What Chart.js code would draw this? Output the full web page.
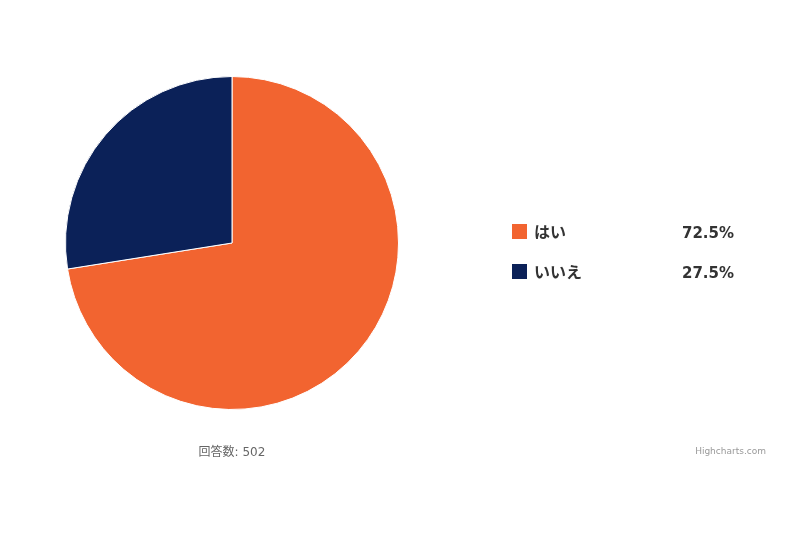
<!DOCTYPE html>
<html><head><meta charset="utf-8">
<script src="https://cdn.jsdelivr.net/npm/chart.js@4"></script>
<style>
html,body{margin:0;padding:0;background:#fff;}
#wrap{position:relative;width:800px;height:533px;font-family:"DejaVu Sans","Noto Sans CJK JP",sans-serif;}
canvas{position:absolute;left:0;top:0;}
.leg{position:absolute;left:512px;width:222px;height:22px;font-weight:bold;color:#333;}
.leg .sw{position:absolute;left:0;top:2px;width:15px;height:15px;}
.leg .lb{position:absolute;left:22px;top:0;line-height:22px;font-size:16px;}
.leg .pc{position:absolute;right:0;top:0;line-height:22px;font-size:15px;}
#cap{position:absolute;left:180px;width:104px;top:442px;text-align:center;font-size:12px;color:#666;}
#credit{position:absolute;right:34px;top:446px;font-size:9px;color:#999;}
</style></head>
<body><div id="wrap"><canvas id="c" width="800" height="533"></canvas>
<div id="legend"></div>
<div id="cap"></div>
<div id="credit">Highcharts.com</div>
</div>
<script>
const categories = ["はい", "いいえ"];
const values = [72.5, 27.5];
const colors = ["#F26430", "#0B2158"];
const caption = "回答数: 502";

const legend = document.getElementById('legend');
categories.forEach((c, i) => {
  const d = document.createElement('div');
  d.className = 'leg';
  d.style.top = (222 + i * 40) + 'px';
  d.innerHTML = '<span class="sw" style="background:' + colors[i] + '"></span><span class="lb">' + c + '</span><span class="pc">' + values[i].toFixed(1) + '%</span>';
  legend.appendChild(d);
});
document.getElementById('cap').textContent = caption;

new Chart(document.getElementById('c'), {
  type: 'pie',
  data: { labels: categories, datasets: [{ data: values, backgroundColor: colors, borderColor: '#ffffff', borderWidth: 1, hoverOffset: 0 }] },
  options: {
    responsive: false, animation: false,
    layout: { padding: { left: 65, right: 401, top: 76, bottom: 123 } },
    plugins: { legend: { display: false }, tooltip: { enabled: false } }
  }
});
</script></body></html>
